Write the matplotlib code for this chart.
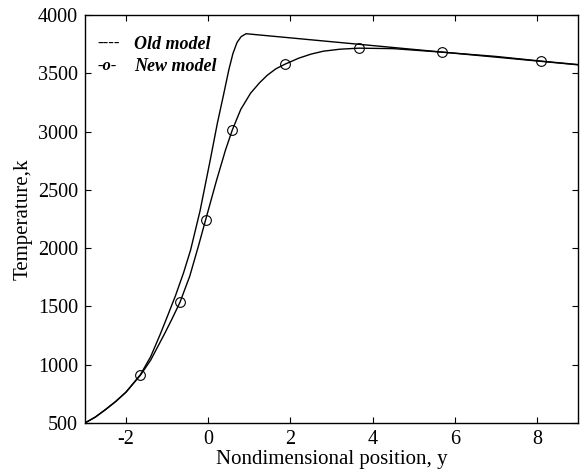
import matplotlib
matplotlib.use("Agg")
import matplotlib.pyplot as plt

# old model curve
old_y = [-3.0, -2.75, -2.5, -2.25, -2.0, -1.65, -1.4, -1.17, -1.0, -0.8, -0.6,
         -0.43, -0.2, 0.05, 0.22, 0.38, 0.5, 0.6, 0.7, 0.8, 0.92, 9.0]
old_t = [500, 550, 615, 685, 765, 915, 1070, 1260, 1410, 1590, 1790,
         1984, 2320, 2760, 3070, 3330, 3530, 3670, 3765, 3815, 3840, 3573]

# new model curve
new_y = [-3.0, -2.75, -2.5, -2.25, -2.0, -1.65, -1.4, -1.06, -0.9, -0.69, -0.45,
         -0.23, -0.066, 0.2, 0.42, 0.585, 0.79, 1.03, 1.25, 1.44, 1.65, 1.87,
         2.2, 2.5, 2.8, 3.2, 3.66, 4.5, 5.68, 7.0, 8.1, 9.0]
new_t = [500, 550, 615, 685, 765, 910, 1040, 1268, 1380, 1534, 1760,
         2030, 2241, 2580, 2843, 3014, 3190, 3330, 3420, 3485, 3540, 3579,
         3630, 3665, 3690, 3707, 3716, 3712, 3682, 3645, 3605, 3575]

# circle markers on the new model
mark_y = [-1.65, -0.69, -0.066, 0.585, 1.87, 3.66, 5.68, 8.1]
mark_t = [910, 1534, 2241, 3014, 3579, 3716, 3682, 3605]

plt.rcParams["font.family"] = ["Liberation Serif", "DejaVu Serif"]
plt.rcParams["axes.unicode_minus"] = False

fig = plt.figure(figsize=(5.84, 4.71), dpi=100)
ax = fig.add_axes([0.1455, 0.102, 0.8445, 0.866])

ax.plot(old_y, old_t, color="black", lw=1.0)
ax.plot(new_y, new_t, color="black", lw=1.0)
ax.plot(mark_y, mark_t, linestyle="none", marker="o", markersize=7,
        markerfacecolor="none", markeredgecolor="black", markeredgewidth=0.8)

ax.set_xlim(-3, 9)
ax.set_ylim(500, 4000)
ax.set_xticks([-2, 0, 2, 4, 6, 8])
ax.set_yticks(range(500, 4001, 500))
ax.tick_params(direction="in", top=True, right=True, length=4, width=0.8,
               labelsize=14.5, pad=5)
for s in ax.spines.values():
    s.set_linewidth(1.0)

ax.set_xlabel("Nondimensional position, y", fontsize=15, labelpad=1)
ax.set_ylabel("Temperature,k", fontsize=15, labelpad=4)

# hand-made legend
ax.text(0.026, 0.929, "----", transform=ax.transAxes, fontsize=12,
        fontweight="bold", va="center")
ax.text(0.1, 0.929, "Old model", transform=ax.transAxes, fontsize=13,
        fontweight="bold", fontstyle="italic", va="center")
ax.text(0.026, 0.875, "-o-", transform=ax.transAxes, fontsize=12,
        fontweight="bold", fontstyle="italic", va="center")
ax.text(0.1, 0.875, "New model", transform=ax.transAxes, fontsize=13,
        fontweight="bold", fontstyle="italic", va="center")

fig.savefig("out.png", dpi=100)
